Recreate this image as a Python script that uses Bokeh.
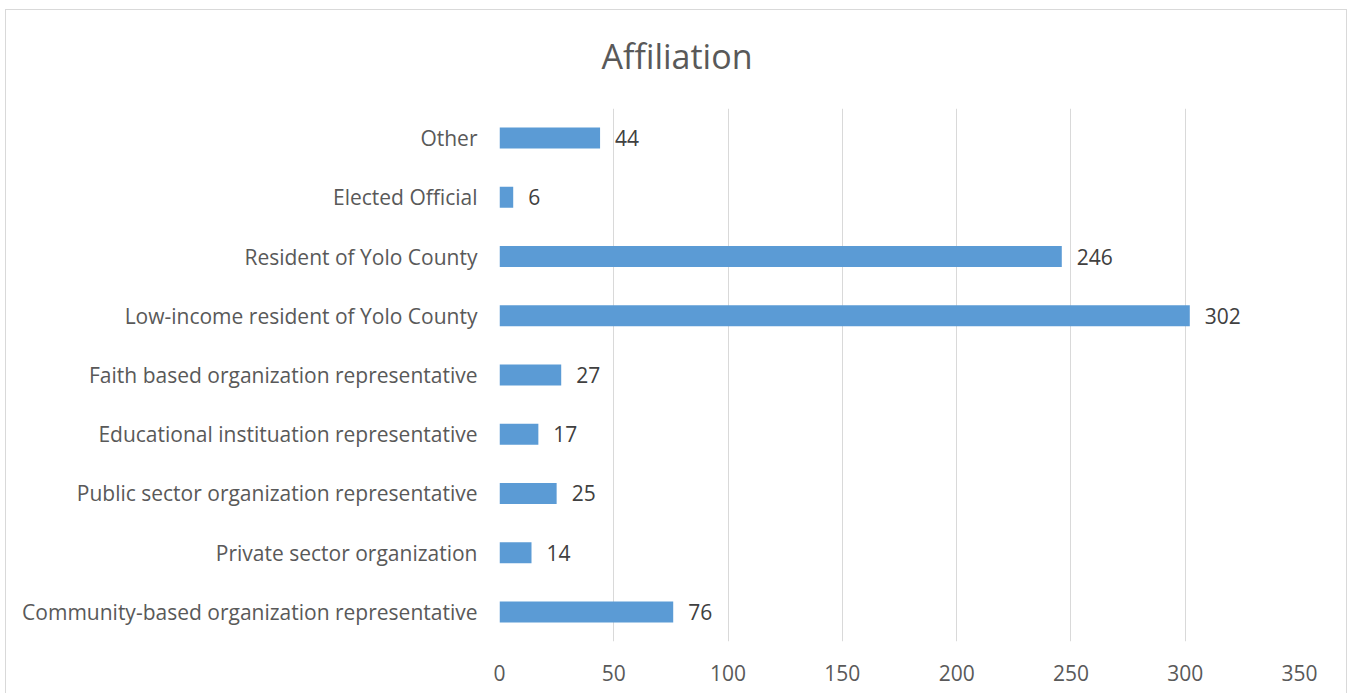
from bokeh.plotting import figure
from bokeh.models import ColumnDataSource, LabelSet, FactorRange, Range1d, FixedTicker, Title
from bokeh.core.properties import value
from bokeh.embed import file_html
from bokeh.resources import INLINE

categories = [
    "Community-based organization representative",
    "Private sector organization",
    "Public sector organization representative",
    "Educational instituation representative",
    "Faith based organization representative",
    "Low-income resident of Yolo County",
    "Resident of Yolo County",
    "Elected Official",
    "Other",
]
values = [76, 14, 25, 17, 27, 302, 246, 6, 44]
x_ticks = [0, 50, 100, 150, 200, 250, 300, 350]
title_text = "Affiliation"

FONT = "Open Sans"
TEXT = "#595959"
BORDER = "#d9d9d9"

src = ColumnDataSource(dict(cat=categories, val=values, lab=[str(v) for v in values]))

p = figure(
    width=1348, height=693,
    y_range=FactorRange(factors=categories, range_padding=0, factor_padding=0),
    x_range=Range1d(0, 350),
    output_backend="svg", toolbar_location=None,
    min_border_left=499, min_border_right=49, min_border_top=108, min_border_bottom=52,
)
g = f"linear-gradient({BORDER},{BORDER})"
p.styles = {
    "background": (
        f"{g} 5px 9px / 1342px 1px no-repeat, "
        f"{g} 5px 9px / 1px 700px no-repeat, "
        f"{g} 1346px 9px / 1px 700px no-repeat, white"
    )
}
p.outline_line_color = None
p.background_fill_color = "white"
p.border_fill_color = None

p.hbar(y="cat", right="val", left=0, height=0.355, source=src,
       fill_color="#5B9BD5", line_color=None)

labels = LabelSet(x="val", y="cat", text="lab", source=src, x_offset=15,
                  text_baseline="middle", text_align="left",
                  text_font=value(FONT), text_font_size="21px", text_color="#404040")
p.add_layout(labels)

p.title = Title(text=title_text, align="left", offset=102, standoff=59,
                text_font=FONT, text_font_size="34px", text_font_style="normal",
                text_color=TEXT)

p.xaxis.ticker = FixedTicker(ticks=x_ticks)
p.xgrid.ticker = FixedTicker(ticks=x_ticks)
p.xgrid.grid_line_color = BORDER
p.ygrid.grid_line_color = None

for ax in (p.xaxis[0], p.yaxis[0]):
    ax.axis_line_color = None
    ax.major_tick_line_color = None
    ax.minor_tick_line_color = None
    ax.major_label_text_font = FONT
    ax.major_label_text_font_size = "21px"
    ax.major_label_text_color = TEXT
p.xaxis.major_label_standoff = 17
p.yaxis.major_label_standoff = 16

open("out.html", "w").write(file_html(p, INLINE))
